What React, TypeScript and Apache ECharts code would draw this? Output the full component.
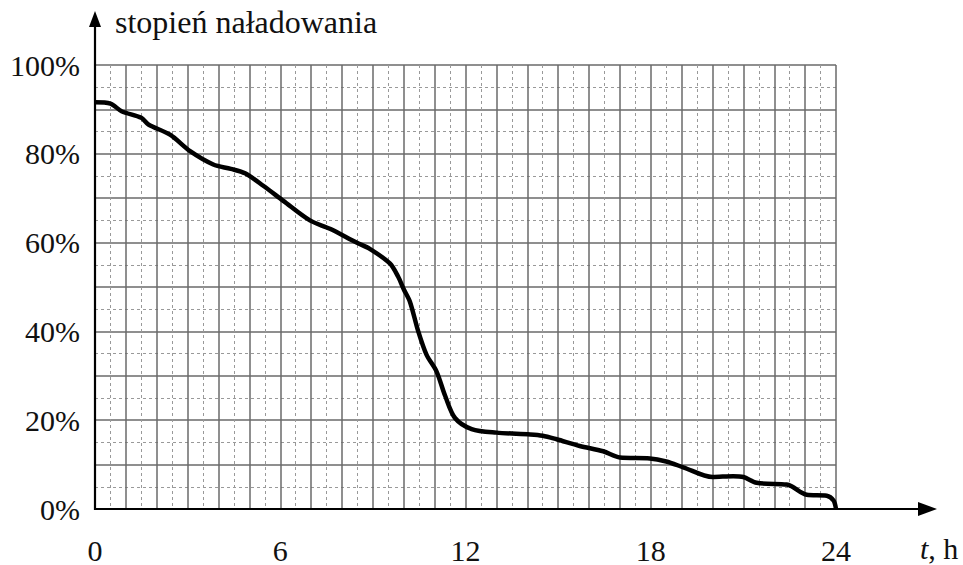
import React, { useEffect, useRef } from "react";
import * as echarts from "echarts";

const hours = [0, 0.5, 0.86, 1.5, 1.73, 2.43, 3.08, 3.83, 4.4, 4.86, 5.45, 6.1, 6.96, 7.61, 8.47, 8.9, 9.55, 9.82, 10.0, 10.2, 10.47, 10.74, 11.06, 11.34, 11.66, 12.2, 13.0, 14.1, 14.5, 14.95, 15.7, 16.46, 17.0, 17.97, 18.5, 19.05, 20.0, 20.67, 21.0, 21.43, 22.4, 22.56, 23.05, 23.7, 23.92, 24.0];
const charge = [91.6, 91.3, 89.6, 88.1, 86.6, 84.3, 80.6, 77.6, 76.6, 75.6, 72.8, 69.4, 65.0, 63.1, 60.0, 58.6, 55.3, 52.3, 49.5, 46.7, 40.0, 34.7, 31.0, 25.5, 20.5, 18.0, 17.2, 16.8, 16.5, 15.7, 14.2, 13.0, 11.6, 11.4, 10.7, 9.4, 7.2, 7.4, 7.2, 5.9, 5.5, 5.1, 3.2, 3.0, 1.9, 0];
const xLabels = [0, 6, 12, 18, 24];
const yLabels = [0, 20, 40, 60, 80, 100];
const yTitle = "stopień naładowania";

const FONT = "Liberation Serif";

export default function App() {
  const ref = useRef<HTMLDivElement>(null);
  useEffect(() => {
    if (!ref.current) return;
    const chart = echarts.init(ref.current, null, { renderer: "svg" });
    chart.setOption({
      animation: false,
      backgroundColor: "#ffffff",
      textStyle: { fontFamily: FONT },
      grid: { left: 95, top: 65, width: 741, height: 447 },
      xAxis: {
        type: "value",
        min: 0,
        max: 24,
        interval: 1,
        axisLine: { show: false },
        axisTick: { show: false },
        axisLabel: {
          show: true,
          margin: 26,
          fontFamily: FONT,
          fontSize: 30,
          color: "#111",
          formatter: (v: number) => (xLabels.includes(v) ? String(v) : ""),
        },
        splitLine: { show: true, lineStyle: { color: "#6a6a6a", width: 1.5 } },
        minorTick: { show: false, splitNumber: 2 },
        minorSplitLine: { show: true, lineStyle: { color: "#999", width: 1, type: [3, 3] } },
      },
      yAxis: {
        type: "value",
        min: 0,
        max: 100,
        interval: 10,
        axisLine: { show: false },
        axisTick: { show: false },
        axisLabel: {
          show: true,
          margin: 15,
          fontFamily: FONT,
          fontSize: 30,
          color: "#111",
          formatter: (v: number) => (yLabels.includes(v) ? v + "%" : ""),
        },
        splitLine: { show: true, lineStyle: { color: "#6a6a6a", width: 1.5 } },
        minorTick: { show: false, splitNumber: 2 },
        minorSplitLine: { show: true, lineStyle: { color: "#999", width: 1, type: [3, 3] } },
      },
      series: [
        {
          type: "line",
          data: hours.map((h, i) => [h, charge[i]]),
          smooth: 0.3,
          showSymbol: false,
          lineStyle: { color: "#000", width: 4.5 },
          z: 5,
        },
      ],
    });
    const o = chart.convertToPixel({ gridIndex: 0 }, [0, 0]) as number[];
    const top = chart.convertToPixel({ gridIndex: 0 }, [24, 100]) as number[];
    const x0 = o[0];
    const y0 = o[1];
    const xEnd = top[0] + 101;
    const yEnd = top[1] - 54;
    chart.setOption({
      graphic: [
        { type: "line", z: 10, shape: { x1: x0, y1: y0 + 1, x2: x0, y2: yEnd + 12 }, style: { stroke: "#000", lineWidth: 2.2 } },
        { type: "polygon", z: 10, shape: { points: [[x0, yEnd], [x0 - 6, yEnd + 16], [x0 + 6, yEnd + 16]] }, style: { fill: "#000" } },
        { type: "line", z: 10, shape: { x1: x0 - 1, y1: y0, x2: xEnd - 14, y2: y0 }, style: { stroke: "#000", lineWidth: 2.2 } },
        { type: "polygon", z: 10, shape: { points: [[xEnd, y0], [xEnd - 19, y0 - 7], [xEnd - 19, y0 + 7]] }, style: { fill: "#000" } },
        {
          type: "text",
          z: 10,
          x: x0 + 20,
          y: yEnd + 11,
          style: { text: yTitle, fontFamily: FONT, fontSize: 32, fill: "#111", align: "left", verticalAlign: "middle" },
        },
        {
          type: "text",
          z: 10,
          x: xEnd - 17,
          y: y0 + 39,
          style: {
            text: "{i|t}, h",
            fontFamily: FONT,
            fontSize: 30,
            fill: "#111",
            align: "left",
            verticalAlign: "middle",
            rich: { i: { fontStyle: "italic", fontFamily: FONT, fontSize: 30, fill: "#111" } },
          },
        },
      ],
    });
    return () => chart.dispose();
  }, []);
  return <div ref={ref} style={{ position: "fixed", left: 0, top: 0, width: 963, height: 565 }} />;
}
